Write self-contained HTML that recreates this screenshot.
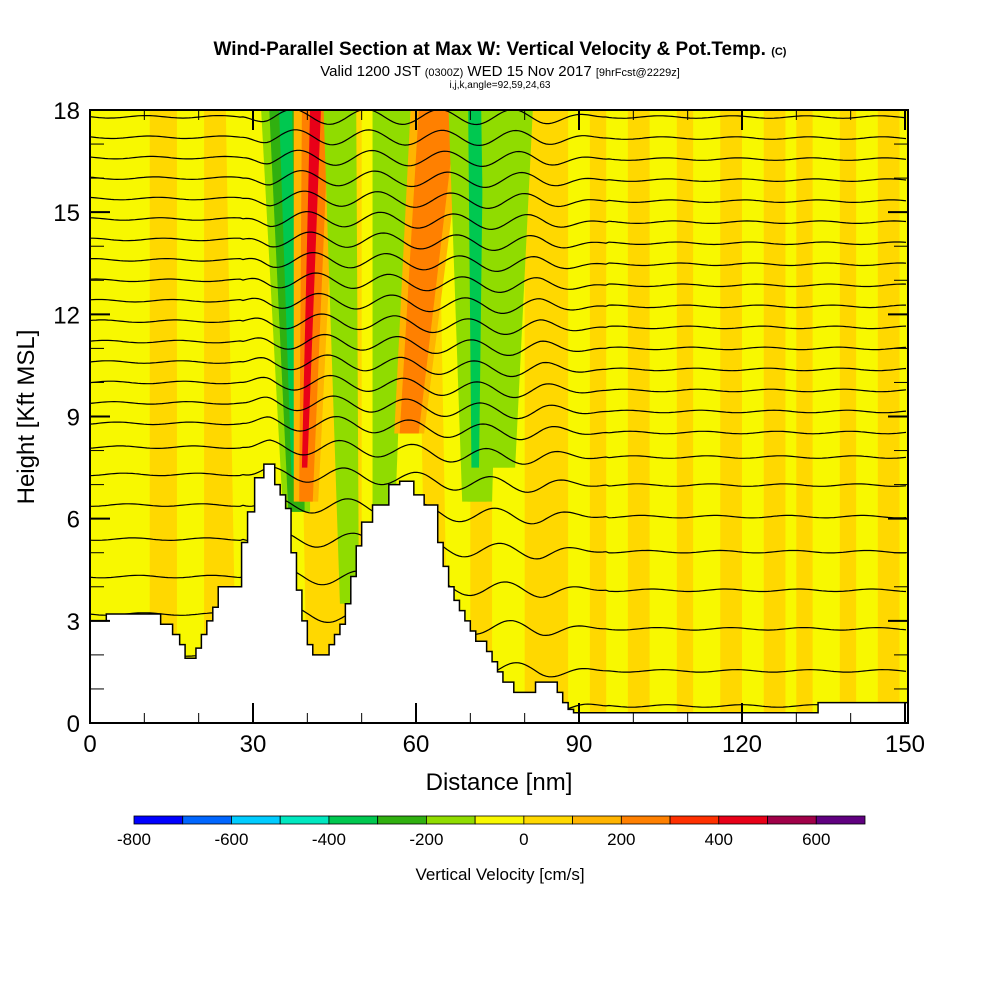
<!DOCTYPE html>
<html><head><meta charset="utf-8"><style>
html,body{margin:0;padding:0;background:#fff;width:1000px;height:1000px;overflow:hidden}
svg text{font-family:"Liberation Sans",Arial,sans-serif}
</style></head><body>
<svg id="chart" width="1000" height="1000" viewBox="0 0 1000 1000" xmlns="http://www.w3.org/2000/svg">
<text x="500" y="55" text-anchor="middle" font-size="19" font-weight="bold">Wind-Parallel Section at Max W: Vertical Velocity &amp; Pot.Temp. <tspan font-size="11">(C)</tspan></text>
<text x="500" y="76" text-anchor="middle" font-size="15">Valid 1200 JST <tspan font-size="11">(0300Z)</tspan> WED 15 Nov 2017 <tspan font-size="11">[9hrFcst@2229z]</tspan></text>
<text x="500" y="88" text-anchor="middle" font-size="10">i,j,k,angle=92,59,24,63</text>
<defs><clipPath id="plotclip"><rect x="90" y="110" width="818" height="613"/></clipPath></defs>
<g id="field" clip-path="url(#plotclip)"></g>
<g id="contours" clip-path="url(#plotclip)"></g>
<g id="terrain" clip-path="url(#plotclip)"></g>
<rect x="90" y="110" width="818" height="613" fill="none" stroke="#000" stroke-width="2"/>
<g id="axes"></g>
<text x="499" y="790" text-anchor="middle" font-size="24">Distance [nm]</text>
<text transform="translate(34,417) rotate(-90)" text-anchor="middle" font-size="24">Height [Kft MSL]</text>
<g id="colorbar"></g>
<text x="500" y="880" text-anchor="middle" font-size="17">Vertical Velocity [cm/s]</text>
</svg>
<script>
// axis data
const xTicks = [0, 30, 60, 90, 120, 150];
const yTicks = [0, 3, 6, 9, 12, 15, 18];
// colorbar data
const cbEdges = [-800,-700,-600,-500,-400,-300,-200,-100,0,100,200,300,400,500,600,700];
const cbColors = ["#0000ff","#0066ff","#00ccff","#00e8c0","#00c850","#30b010","#90dc00","#f8f800","#ffd800","#ffb400","#ff8000","#ff3000","#e80018","#a00048","#600080"];
const cbLabels = [-800,-600,-400,-200,0,200,400,600];
// terrain profile: distance (nm), height (kft)
const terrX = [0,3,13,13,15.2,16.5,17.5,19.5,19.5,20.5,21.5,22.6,23.6,27.9,27.9,29,30.3,32,33,34,35,36,37,38,39,40,41,42,44,45,46,47,48,49,50,52,55,57,57.8,59.6,61.5,61.5,64,65,66,67,68,69,70,71,73,74,75,76,78,82,82,86,87,88,89,90,98,120,133,134,151];
const terrH = [3.0,3.2,3.2,2.9,2.6,2.3,1.9,1.9,2.2,2.6,3.0,3.4,4.0,4.0,5.3,6.2,7.2,7.6,7.6,7.0,6.7,6.3,5.0,3.9,3.0,2.3,2.0,2.0,2.3,2.6,2.9,3.5,4.3,5.2,5.9,6.4,7.0,7.1,7.1,6.7,6.7,6.4,5.3,4.6,4.0,3.6,3.3,3.0,2.7,2.4,2.1,1.8,1.5,1.2,0.9,0.9,1.2,0.9,0.6,0.4,0.3,0.3,0.3,0.3,0.3,0.6,0.6];
// weak vertical-velocity bands
const bandTopX = [11,21,38,44,45,48,22,40,60,70,80,84,92,99,108,116,124,130,138,145];
const bandBotX = [11,21,40,44,46,48,24,42,62,70,80,84,92,99,108,116,124,130,138,145];
const bandW = [5,4,4,4,3,2,3,4,4,4,5,4,3,4,3,4,4,3,3,4];
const bandVal = [50,50,50,50,50,50,50,50,50,50,50,50,50,50,50,50,50,50,50,50];
// strong updraft/downdraft bands
const jetTop = [33, 39, 44.5, 53.5, 60.5, 67.5, 73.5];
const jetBot = [36.5, 38.5, 47, 53, 57, 69.5, 74];
const jetBotH = [6.2, 6.5, 3.5, 5.5, 8.5, 6.5, 7.5];
const jetW = [6, 5, 3, 4, 7, 7, 6.5];
const jetVal = [-250, 250, -150, -150, 250, -150, -150];
const jetCore = [-350, 450, -150, -150, 250, -350, -150];
// theta contour base heights (kft)
const thetaBase = [17.8,17.2,16.6,16.0,15.4,14.8,14.2,13.6,13.0,12.4,11.8,11.2,10.6,10.0,9.4,8.8,8.1,7.3,6.4,5.4,4.3,3.2,2.0,1.0];

const NS="http://www.w3.org/2000/svg";
const X0=90,X1=908,Y0=723,Y1=110;
const xs = d => X0 + d*(163/30);
const ys = h => Y0 - h*(Y0-Y1)/18;
function colorFor(v){for(let i=0;i<cbColors.length;i++){if(v>=cbEdges[i]&&v<cbEdges[i+1])return cbColors[i];}return cbColors[cbColors.length-1];}
function mk(tag,attrs,parent){const e=document.createElementNS(NS,tag);for(const k in attrs)e.setAttribute(k,attrs[k]);parent.appendChild(e);return e;}

const field=document.getElementById('field');
let bg=mk('rect',{x:X0,y:Y1,width:X1-X0,height:Y0-Y1,fill:"#f8f800"},field);


bandTopX.forEach((t,i)=>{
  const w=bandW[i];
  const p=mk('polygon',{points:`${xs(t)},${ys(18)} ${xs(t+w)},${ys(18)} ${xs(bandBotX[i]+w)},${ys(0)} ${xs(bandBotX[i])},${ys(0)}`,fill:colorFor(bandVal[i])},field);
  
  
});
jetTop.forEach((t,i)=>{
  const w=jetW[i], b=jetBot[i], h=jetBotH[i];
  if(jetVal[i]>0){
    const f=mk('polygon',{points:`${xs(t-1.5)},${ys(18)} ${xs(t+w+1.5)},${ys(18)} ${xs(b+w*0.5+1)},${ys(h)} ${xs(b-1)},${ys(h)}`,fill:colorFor(150)},field);
    
    
  } else {
    const f=mk('polygon',{points:`${xs(t-1.5)},${ys(18)} ${xs(t+w+1.5)},${ys(18)} ${xs(b+w*0.5+1)},${ys(h)} ${xs(b-1)},${ys(h)}`,fill:colorFor(-150)},field);
    
    
  }
  const p=mk('polygon',{points:`${xs(t)},${ys(18)} ${xs(t+w)},${ys(18)} ${xs(b+w*0.5)},${ys(h)} ${xs(b)},${ys(h)}`,fill:colorFor(jetVal[i])},field);
  
  
  const cw=w*0.4, co=w*0.3;
  const c=mk('polygon',{points:`${xs(t+co)},${ys(18)} ${xs(t+co+cw)},${ys(18)} ${xs(b+w*0.3)},${ys(h+1)} ${xs(b+w*0.1)},${ys(h+1)}`,fill:colorFor(jetCore[i])},field);
  
  
});

// contours
const cont=document.getElementById('contours');
thetaBase.forEach((hb,i)=>{
  let d="";
  for(let px=X0;px<=X1;px+=3){
    const dist=(px-X0)*30/163;
    let amp = (dist>28&&dist<95)? 1.5*Math.min(1,(dist-28)/5)*Math.min(1,(95-dist)/12) : 0.25;
    const phase=(18-hb)*0.9;
    const slope=(18-hb)*1.0*(1/(1+Math.exp(-(dist-60)/6)));
    const y=ys(hb)+ amp*5*Math.sin(2*Math.PI*(dist-phase)/13.5) + slope;
    d+=(d?"L":"M")+px.toFixed(1)+","+y.toFixed(1);
  }
  const p=mk('path',{d:d,fill:"none",stroke:"#000","stroke-width":1.2},cont);
  
  
});

// terrain
const ter=document.getElementById('terrain');
let td=`M${xs(terrX[0])},${ys(terrH[0])}`;
for(let i=1;i<terrX.length;i++){td+=`H${xs(terrX[i])}V${ys(terrH[i])}`;}
td+=`V${Y0}H${X0}Z`;
const tp=mk('path',{d:td,fill:"#fff",stroke:"#000","stroke-width":1.5},ter);



// axes
const ax=document.getElementById('axes');
for(let v=0;v<=150;v+=10){
  const big=xTicks.includes(v);
  const l=mk('line',{x1:xs(v),x2:xs(v),y1:Y0,y2:Y0-(big?20:10),stroke:"#000","stroke-width":big?2:1},ax);
  
  
  const l2=mk('line',{x1:xs(v),x2:xs(v),y1:Y1,y2:Y1+(big?20:10),stroke:"#000","stroke-width":big?2:1},ax);
  
  
}
xTicks.forEach(v=>{
  const t=mk('text',{x:xs(v),y:752,"text-anchor":"middle","font-size":24},ax);t.textContent=v;
  
  
});
for(let v=0;v<=18;v+=1){
  const big=yTicks.includes(v);
  const l=mk('line',{x1:X0,x2:X0+(big?20:14),y1:ys(v),y2:ys(v),stroke:"#000","stroke-width":big?2:1},ax);
  
  
  const l2=mk('line',{x1:X1,x2:X1-(big?20:14),y1:ys(v),y2:ys(v),stroke:"#000","stroke-width":big?2:1},ax);
  
  
}
yTicks.forEach(v=>{
  const t=mk('text',{x:80,y:ys(v)+9,"text-anchor":"end","font-size":24},ax);t.textContent=v;
  
  
});

// colorbar
const cb=document.getElementById('colorbar');
const cbx=v=>134+(v+800)*(731/1500);
cbColors.forEach((c,i)=>{
  const r=mk('rect',{x:cbx(cbEdges[i]),y:816,width:cbx(cbEdges[i+1])-cbx(cbEdges[i]),height:8,fill:c,stroke:"#000","stroke-width":0.8},cb);
  
  
});
cbLabels.forEach(v=>{
  const t=mk('text',{x:cbx(v),y:845,"text-anchor":"middle","font-size":17},cb);t.textContent=v;
  
  
});
</script>
</body></html>
